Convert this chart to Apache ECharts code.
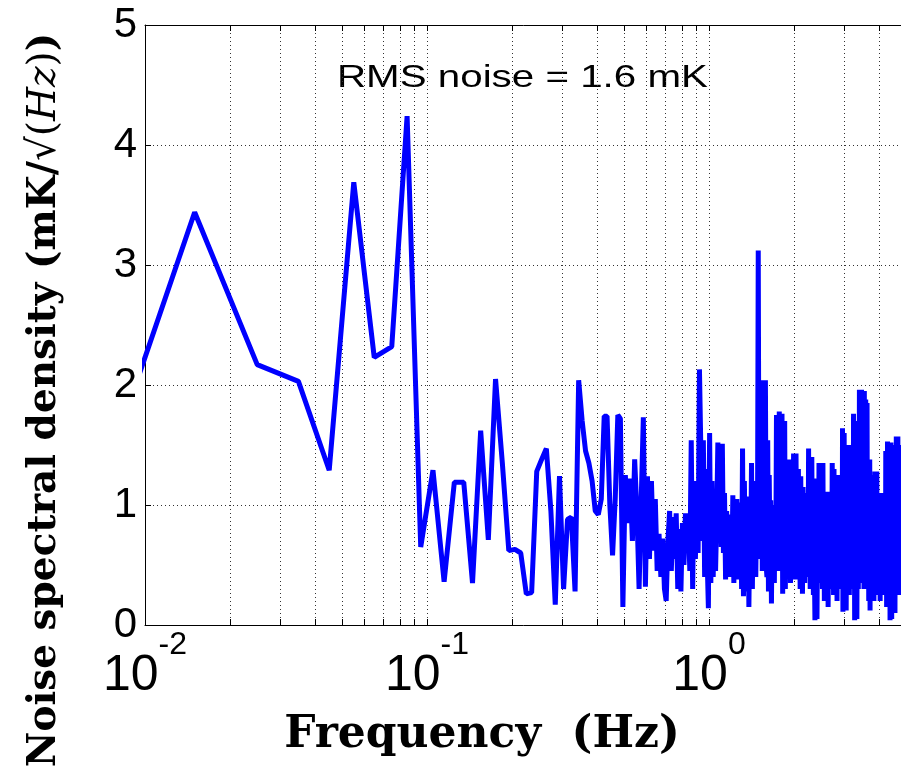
<!DOCTYPE html>
<html>
<head>
<meta charset="utf-8">
<title>Noise spectral density</title>
<script src="https://cdn.jsdelivr.net/npm/echarts@6/dist/echarts.min.js"></script>
<style>
  html, body { margin: 0; padding: 0; background: #ffffff; }
  #chart { width: 901px; height: 771px; }
</style>
</head>
<body>
<div id="chart"></div>
<script>
// FFT bins: centre of the first bin and bin spacing (Hz)
const binStart = 0.005;
const binStep = 0.01;

// Amplitude spectral density per bin (mK/sqrt(Hz)), ten bins (0.1 Hz) per row
const psd = [
  0.16, 3.44, 2.17, 2.03, 1.29, 3.69, 2.23, 2.32, 4.24, 0.65, // 0.0x
  1.29, 0.36, 1.19, 1.19, 0.35, 1.62, 0.71, 2.05, 1.35, 0.62, // 0.1x
  0.63, 0.60, 0.26, 0.27, 1.28, 1.38, 1.47, 0.95, 0.17, 1.24, // 0.2x
  0.30, 0.88, 0.90, 0.28, 2.04, 1.70, 1.45, 1.35, 1.20, 0.95, // 0.3x
  0.92, 1.05, 1.74, 1.74, 1.00, 0.58, 1.05, 1.75, 1.72, 0.15, // 0.4x
  1.25, 0.85, 1.22, 0.70, 1.38, 0.95, 0.30, 1.05, 1.73, 0.32, // 0.5x
  1.24, 0.55, 1.20, 0.62, 1.05, 0.45, 0.76, 0.40, 0.72, 0.30, // 0.6x
  0.20, 0.70, 0.95, 0.45, 0.90, 0.55, 0.93, 0.30, 0.80, 0.28, // 0.7x
  0.85, 0.50, 0.93, 0.60, 0.88, 0.45, 1.54, 0.30, 1.20, 0.55, // 0.8x
  1.10, 0.60, 2.13, 1.50, 0.70, 1.54, 0.40, 1.30, 0.55, 0.14, // 0.9x
  1.60, 0.35, 1.20, 0.40, 1.04, 0.45, 0.90, 1.52, 0.70, 1.35, // 1.0x
  0.65, 1.51, 0.60, 1.10, 0.38, 0.95, 0.50, 0.88, 0.40, 0.92, // 1.1x
  0.45, 1.08, 0.35, 0.90, 0.55, 1.05, 0.38, 0.85, 0.60, 1.02, // 1.2x
  0.30, 1.47, 0.24, 1.20, 0.50, 0.95, 0.28, 1.07, 0.15, 0.80, // 1.3x
  0.45, 1.35, 0.30, 1.10, 0.55, 1.20, 0.40, 0.95, 0.60, 3.12, // 1.4x
  0.55, 1.60, 0.70, 2.04, 0.45, 1.30, 2.02, 0.80, 2.04, 0.50, // 1.5x
  0.40, 1.54, 0.28, 1.25, 0.60, 1.04, 0.18, 0.85, 0.40, 0.95, // 1.6x
  0.35, 1.00, 0.50, 1.75, 0.70, 1.40, 0.45, 1.78, 0.80, 1.30, // 1.7x
  0.55, 1.76, 0.26, 1.10, 0.60, 1.70, 0.30, 0.95, 0.50, 1.20, // 1.8x
  0.45, 1.38, 0.70, 1.05, 0.35, 1.25, 0.55, 0.90, 0.40, 1.43, // 1.9x
  0.50, 1.10, 0.38, 1.43, 0.65, 1.00, 0.45, 1.30, 0.55, 0.85, // 2.0x
  0.30, 1.24, 0.60, 0.95, 0.26, 1.15, 0.50, 0.80, 0.35, 1.00, // 2.1x
  0.45, 1.10, 0.60, 0.90, 0.40, 1.47, 0.55, 1.20, 0.30, 1.00, // 2.2x
  0.50, 1.40, 0.65, 0.95, 0.25, 1.22, 0.45, 0.04, 0.85, 0.30, // 2.3x
  1.10, 0.05, 0.70, 1.20, 0.40, 1.35, 0.55, 1.00, 0.35, 1.30, // 2.4x
  0.60, 0.90, 0.30, 1.35, 0.50, 1.05, 0.20, 0.85, 0.45, 1.11, // 2.5x
  0.35, 0.95, 0.60, 1.08, 0.15, 0.80, 0.40, 1.11, 0.55, 0.90, // 2.6x
  0.30, 1.00, 0.45, 1.35, 0.60, 1.10, 0.25, 1.30, 0.50, 0.95, // 2.7x
  0.35, 1.20, 0.55, 0.85, 0.20, 1.25, 0.45, 0.90, 0.60, 1.15, // 2.8x
  0.40, 1.05, 0.30, 1.25, 0.50, 0.95, 0.35, 1.64, 0.11, 1.20, // 2.9x
  0.55, 1.60, 0.30, 1.00, 0.45, 1.30, 0.12, 0.90, 0.50, 1.45, // 3.0x
  0.35, 1.10, 0.60, 1.50, 0.25, 0.95, 0.50, 1.35, 0.40, 1.05, // 3.1x
  0.55, 1.45, 0.30, 0.90, 0.45, 1.76, 0.60, 1.20, 0.04, 1.00, // 3.2x
  0.40, 1.70, 0.55, 1.10, 0.05, 0.85, 0.50, 1.55, 0.30, 1.20, // 3.3x
  0.60, 1.96, 0.45, 1.30, 0.70, 1.05, 0.35, 1.96, 0.55, 1.10, // 3.4x
  0.40, 1.60, 0.65, 1.20, 0.30, 1.95, 0.50, 0.95, 0.45, 1.88, // 3.5x
  0.60, 1.40, 0.35, 1.85, 0.55, 1.00, 0.40, 1.30, 0.20, 0.90, // 3.6x
  0.50, 1.38, 0.12, 0.95, 0.60, 1.20, 0.30, 0.85, 0.45, 1.10, // 3.7x
  0.35, 1.25, 0.55, 0.90, 0.20, 1.05, 0.60, 1.28, 0.40, 0.80, // 3.8x
  0.50, 1.15, 0.30, 1.28, 0.65, 0.95, 0.25, 1.10, 0.45, 0.85, // 3.9x
  0.35, 1.05, 0.55, 0.80, 0.20, 1.10, 0.60, 0.90, 0.40, 1.00, // 4.0x
  0.30, 1.05, 0.50, 1.10, 0.25, 0.95, 0.65, 1.08, 0.35, 1.00, // 4.1x
  0.55, 1.00, 0.30, 1.45, 0.50, 1.25, 0.15, 1.05, 0.60, 1.53, // 4.2x
  0.40, 1.00, 0.55, 1.35, 0.20, 0.90, 0.45, 1.20, 0.04, 1.10, // 4.3x
  0.50, 1.52, 0.30, 0.95, 0.05, 1.20, 0.60, 1.50, 0.35, 0.90, // 4.4x
  0.55, 1.45, 0.25, 1.05, 0.45, 1.30, 0.10, 0.85, 0.50, 1.40, // 4.5x
  0.40, 1.57, 0.60, 1.25, 0.30, 0.95, 0.50, 1.57, 0.35, 1.00, // 4.6x
  0.45, 1.20, 0.25, 1.50, 0.55, 0.90, 0.35, 1.30, 0.60, 1.10, // 4.7x
  0.40, 1.05, 0.30, 1.20, 0.50, 0.95, 0.35, 1.15, 0.45, 1.00  // 4.8x
];

// Axis ticks
const decadeTicks = [0.01, 0.1, 1, 10];
const minorTicks = [
  0.02, 0.03, 0.04, 0.05, 0.06, 0.07, 0.08, 0.09,
  0.2, 0.3, 0.4, 0.5, 0.6, 0.7, 0.8, 0.9,
  2, 3, 4, 5, 6, 7, 8, 9
];
const yTicks = [0, 1, 2, 3, 4, 5];

const annotation = 'RMS noise = 1.6 mK';
const xTitle = 'Frequency  (Hz)';

const sans = '"Liberation Sans", Arial, Helvetica, sans-serif';
const serif = '"DejaVu Serif", serif';

const seriesData = psd.map((v, i) => [+(binStart + i * binStep).toFixed(3), v]);
const minorData = minorTicks.map(f => [f, yTicks[0]]);

function decadeLabel(value) {
  const e = Math.round(Math.log10(value));
  return '{base|10}{exp|' + e + '}';
}

// Dotted grid line plus inward ticks on bottom and top frame at 2..9 x 10^n
function renderMinorGrid(params, api) {
  const f = api.value(0);
  const lo = api.coord([f, yTicks[0]]);
  const hi = api.coord([f, yTicks[yTicks.length - 1]]);
  const x = Math.round(lo[0]) + 0.5;
  return {
    type: 'group',
    children: [
      { type: 'line', shape: { x1: x, y1: hi[1], x2: x, y2: lo[1] },
        style: { stroke: '#333', lineWidth: 1, lineDash: [1, 3] } },
      { type: 'line', shape: { x1: x, y1: lo[1], x2: x, y2: lo[1] - 6 },
        style: { stroke: '#000', lineWidth: 1 } },
      { type: 'line', shape: { x1: x, y1: hi[1], x2: x, y2: hi[1] + 6 },
        style: { stroke: '#000', lineWidth: 1 } }
    ]
  };
}

const chart = echarts.init(document.getElementById('chart'), null, { renderer: 'canvas' });

const frameLine = { show: true, onZero: false, lineStyle: { color: '#000', width: 1 } };
const dotted = { show: true, lineStyle: { color: '#333', width: 1, type: [1, 3] } };

chart.setOption({
  backgroundColor: '#ffffff',
  animation: false,
  grid: {
    left: 145, top: 25, width: 846, height: 600,
    containLabel: false, outerBoundsMode: 'none', show: false
  },
  xAxis: [
    {
      type: 'log', logBase: 10, min: decadeTicks[0], max: decadeTicks[decadeTicks.length - 1],
      position: 'bottom',
      axisLine: frameLine,
      axisTick: { show: true, inside: true, length: 6, lineStyle: { color: '#000', width: 1 } },
      axisLabel: {
        show: true, margin: 4, formatter: decadeLabel,
        rich: {
          base: { fontSize: 50, fontFamily: sans, color: '#000', padding: [22, 0, 0, 0], verticalAlign: 'bottom' },
          exp: { fontSize: 32, fontFamily: sans, color: '#000', verticalAlign: 'top' }
        }
      },
      splitLine: dotted,
      minorTick: { show: false },
      minorSplitLine: { show: false }
    },
    {
      type: 'log', logBase: 10, min: decadeTicks[0], max: decadeTicks[decadeTicks.length - 1],
      position: 'top',
      axisLine: frameLine,
      axisTick: { show: true, inside: true, length: 6, lineStyle: { color: '#000', width: 1 } },
      axisLabel: { show: false },
      splitLine: { show: false }
    }
  ],
  yAxis: {
    type: 'value', min: yTicks[0], max: yTicks[yTicks.length - 1], interval: 1,
    axisLine: frameLine,
    axisTick: { show: true, inside: true, length: 6, lineStyle: { color: '#000', width: 1 } },
    axisLabel: { fontSize: 42, fontFamily: sans, color: '#000', margin: 8 },
    splitLine: dotted
  },
  series: [
    {
      type: 'custom', xAxisIndex: 0, yAxisIndex: 0,
      data: minorData, renderItem: renderMinorGrid,
      silent: true, z: 1, clip: false
    },
    {
      type: 'line', xAxisIndex: 0, yAxisIndex: 0,
      data: seriesData, showSymbol: false, symbol: 'none',
      lineStyle: { color: '#0000ff', width: 5 },
      itemStyle: { color: '#0000ff' },
      silent: true, z: 3, clip: true
    }
  ],
  graphic: [
    {
      type: 'text', x: 337, y: 78, scaleX: 1.26,
      style: {
        text: annotation, fontSize: 32, fontFamily: sans, fill: '#000',
        textAlign: 'left', textVerticalAlign: 'middle', align: 'left', verticalAlign: 'middle'
      }
    },
    {
      type: 'text', x: 482, y: 736,
      style: {
        text: xTitle, fontSize: 44, fontFamily: serif, fontWeight: 'bold', fill: '#000',
        textAlign: 'center', textVerticalAlign: 'middle', align: 'center', verticalAlign: 'middle'
      }
    },
    {
      type: 'text', x: 45, y: 400, rotation: Math.PI / 2,
      style: {
        text: '{b|Noise spectral density (mK/}{r|\u221A(}{i|Hz}{r|)}{b|)}',
        fill: '#000',
        textAlign: 'center', textVerticalAlign: 'middle', align: 'center', verticalAlign: 'middle',
        rich: {
          b: { fontSize: 39, fontFamily: serif, fontWeight: 'bold', color: '#000' },
          r: { fontSize: 39, fontFamily: serif, color: '#000' },
          i: { fontSize: 39, fontFamily: serif, fontStyle: 'italic', color: '#000' }
        }
      }
    }
  ]
});
</script>
</body>
</html>
